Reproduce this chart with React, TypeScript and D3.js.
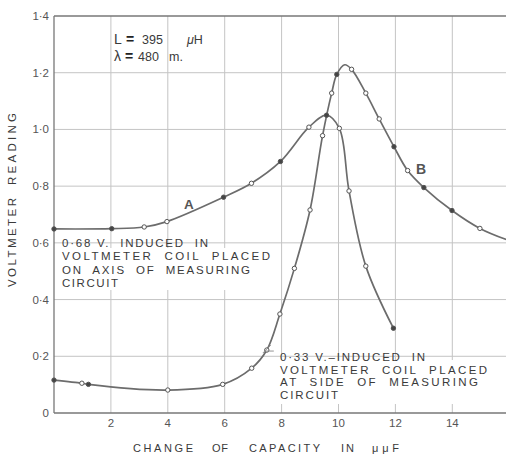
import React from "react";
import * as d3 from "d3";

const W = 506;
const H = 456;

// Axis ticks
const xTicks = [2, 4, 6, 8, 10, 12, 14];
const xTickLabels = ["2", "4", "6", "8", "10", "12", "14"];
const yTicks = [0, 0.2, 0.4, 0.6, 0.8, 1.0, 1.2, 1.4];
const yTickLabels = ["0", "0·2", "0·4", "0·6", "0·8", "1·0", "1·2", "1·4"];

// Curve A: coil on axis of measuring circuit (measured points)
const curveA: [number, number][] = [
  [0, 0.649], [2.03, 0.65], [3.17, 0.656], [3.97, 0.675], [5.96, 0.761],
  [6.94, 0.81], [7.96, 0.887], [8.96, 1.008], [9.58, 1.05], [10.03, 1.004],
  [10.37, 0.783], [10.96, 0.518], [11.93, 0.299],
];
const curveASolid = [0, 1, 4, 6, 8, 12];

// Curve B: coil at side of measuring circuit (measured points)
const curveB: [number, number][] = [
  [0, 0.116], [0.98, 0.105], [1.21, 0.101], [4, 0.081], [5.93, 0.101],
  [6.95, 0.158], [7.48, 0.222], [7.94, 0.349], [8.45, 0.51], [9.0, 0.716],
  [9.44, 0.978], [9.76, 1.128], [9.94, 1.194], [10.46, 1.212], [10.96, 1.128],
  [11.43, 1.037], [11.95, 0.939], [12.43, 0.855], [13.0, 0.795], [13.99, 0.714],
  [14.97, 0.651],
];
const curveBSolid = [0, 2, 12, 16, 18, 19];
// Faired through the crest and out past the right edge
const curveBFaired: [number, number][] = [[10.22, 1.228], [16, 0.608]];

const noteA = ["0·68 V.  INDUCED  IN", "VOLTMETER  COIL  PLACED", "ON  AXIS  OF  MEASURING", "CIRCUIT"];
const noteAWidths = [146, 208, 188, 56];
const noteB = ["0·33 V.–INDUCED  IN", "VOLTMETER  COIL  PLACED", "AT  SIDE  OF  MEASURING", "CIRCUIT"];
const noteBWidths = [145, 207, 198, 58];

const xTitleWords = ["CHANGE", "OF", "CAPACITY", "IN", "μμF"];
const yTitleWords = ["VOLTMETER", "READING"];

const FONT = "'Liberation Sans', Arial, Helvetica, sans-serif";
const INK = "#3a3a3a";
const LINE = "#6c6c6c";
const GRID = "#c4c4c4";

export default function App() {
  const x = d3.scaleLinear().domain([0, 16]).range([54, 509.2]);
  const y = d3.scaleLinear().domain([0, 1.4]).range([413, 16]);

  const line = d3
    .line<[number, number]>()
    .x((d) => x(d[0]))
    .y((d) => y(d[1]))
    .curve(d3.curveCatmullRom.alpha(0.5));

  const bLine = [...curveB, ...curveBFaired].sort((a, b) => a[0] - b[0]);

  const markers = (pts: [number, number][], solid: number[]) =>
    pts.map((p, i) => (
      <circle
        key={i}
        cx={x(p[0])}
        cy={y(p[1])}
        r={2.2}
        fill={solid.includes(i) ? "#444" : "#fff"}
        stroke="#555"
        strokeWidth={1}
      />
    ));

  const left = x(0);
  const right = W;
  const top = y(1.4);
  const bottom = y(0);

  const noteStyle = {
    fontFamily: FONT,
    fontSize: 11.5,
    fill: INK,
    lengthAdjust: "spacing",
    style: { whiteSpace: "pre" },
  } as const;

  // word placement along the axis titles
  const xTitleX = [133, 212, 249, 341, 372];
  const xTitleLen = [60, 16, 71, 13, 27];
  const yTitleX = [0, 102];
  const yTitleLen = [89, 72];

  return (
    <svg
      width={W}
      height={H}
      style={{ position: "fixed", left: 0, top: 0, background: "#fff" }}
    >
      <rect width={W} height={H} fill="#fff" />

      {/* vertical grid */}
      {xTicks.map((t) => (
        <line key={t} x1={x(t)} x2={x(t)} y1={top} y2={bottom} stroke={GRID} strokeWidth={1} />
      ))}

      {/* clear panels behind the notes */}
      <rect x={58} y={248} width={218} height={42} fill="#fff" />
      <rect x={279} y={360} width={214} height={44} fill="#fff" />

      {/* horizontal grid */}
      {yTicks.slice(1, -1).map((t) => (
        <line key={t} x1={left} x2={right} y1={y(t)} y2={y(t)} stroke={GRID} strokeWidth={1} />
      ))}

      {/* frame */}
      <line x1={left} x2={right} y1={top} y2={top} stroke="#777" strokeWidth={1.3} />
      <line x1={left} x2={right} y1={bottom} y2={bottom} stroke="#777" strokeWidth={1.3} />
      <line x1={left} x2={left} y1={top} y2={bottom} stroke="#777" strokeWidth={1.3} />

      {/* y tick labels */}
      {yTicks.map((t, i) => (
        <text
          key={t}
          x={49}
          y={y(t) + 4}
          textAnchor="end"
          fontFamily={FONT}
          fontSize={11.5}
          fill="#555"
        >
          {yTickLabels[i]}
        </text>
      ))}

      {/* x tick labels */}
      {xTicks.map((t, i) => (
        <text
          key={t}
          x={x(t)}
          y={427}
          textAnchor="middle"
          fontFamily={FONT}
          fontSize={11.5}
          fill="#555"
        >
          {xTickLabels[i]}
        </text>
      ))}

      {/* axis titles */}
      {xTitleWords.map((w, i) => (
        <text
          key={w}
          x={xTitleX[i]}
          y={452}
          fontFamily={FONT}
          fontSize={11}
          textLength={xTitleLen[i]}
          lengthAdjust="spacing"
          fill={INK}
        >
          {w}
        </text>
      ))}
      <g transform="translate(16,287) rotate(-90)">
        {yTitleWords.map((w, i) => (
          <text
            key={w}
            x={yTitleX[i]}
            y={0}
            fontFamily={FONT}
            fontSize={11.5}
            textLength={yTitleLen[i]}
            lengthAdjust="spacing"
            fill={INK}
          >
            {w}
          </text>
        ))}
      </g>

      {/* constants */}
      <text y={44} fontFamily={FONT} fill={INK}>
        <tspan x={114} fontSize={14}>L</tspan>
        <tspan x={126} fontSize={14} fontWeight="bold" fill="#222">=</tspan>
        <tspan x={142} fontSize={12.5}>395</tspan>
        <tspan x={187} fontSize={12.5} fontStyle="italic">μ</tspan>
        <tspan fontSize={12.5}>H</tspan>
      </text>
      <text y={61} fontFamily={FONT} fill={INK}>
        <tspan x={114} fontSize={14}>λ</tspan>
        <tspan x={125} fontSize={14} fontWeight="bold" fill="#222">=</tspan>
        <tspan x={138} fontSize={12.5}>480</tspan>
        <tspan x={169} fontSize={12.5}>m.</tspan>
      </text>

      {/* curves */}
      <path d={line(curveA) ?? ""} fill="none" stroke={LINE} strokeWidth={1.7} />
      <path d={line(bLine) ?? ""} fill="none" stroke={LINE} strokeWidth={1.7} />
      {markers(curveA, curveASolid)}
      {markers(curveB, curveBSolid)}

      {/* curve letters */}
      <text x={184} y={209} fontFamily={FONT} fontSize={13.5} fontWeight="bold" fill="#555">
        A
      </text>
      <text x={416} y={174} fontFamily={FONT} fontSize={14} fontWeight="bold" fill="#555">
        B
      </text>

      {/* notes */}
      {noteA.map((s, i) => (
        <text key={i} x={62} y={247 + i * 13.4} textLength={noteAWidths[i]} {...noteStyle}>
          {s}
        </text>
      ))}
      {noteB.map((s, i) => (
        <text key={i} x={280} y={361 + i * 12.6} textLength={noteBWidths[i]} {...noteStyle}>
          {s}
        </text>
      ))}

      {/* leader from the note to curve B */}
      <path
        d={`M ${x(7.48) - 4} ${y(0.222) + 3} L ${x(7.48) + 4} ${y(0.222) - 5} M ${x(7.48) - 2} ${y(0.222) + 1} L ${x(7.48) + 7} ${y(0.222) + 1}`}
        fill="none"
        stroke="#888"
        strokeWidth={0.9}
      />
    </svg>
  );
}
